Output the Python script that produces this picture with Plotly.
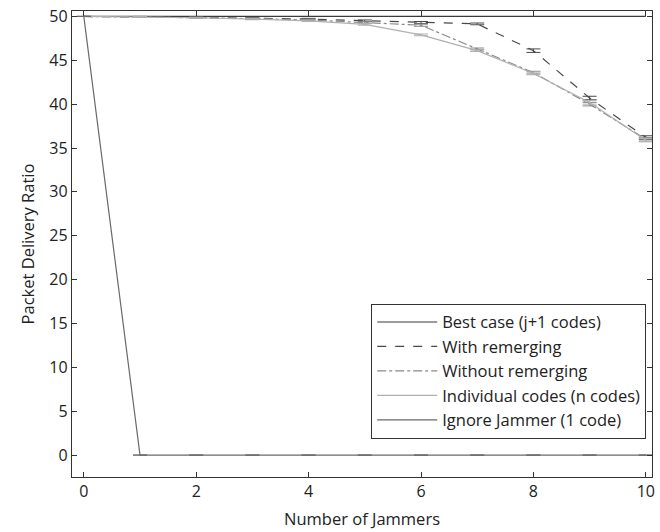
import plotly.graph_objects as go

jammers = list(range(0, 11))
best_case = [50, 50, 50, 50, 50, 50, 50, 50, 50, 50, 50]
with_remerging = [50, 49.95, 49.9, 49.8, 49.7, 49.5, 49.3, 49.15, 46.1, 40.7, 36.2]
without_remerging = [50, 49.95, 49.85, 49.75, 49.6, 49.3, 49.0, 46.3, 43.6, 40.0, 36.0]
individual_codes = [50, 49.95, 49.85, 49.7, 49.5, 49.1, 47.9, 46.1, 43.5, 40.2, 35.9]
ignore_jammer = [50, 0, 0, 0, 0, 0, 0, 0, 0, 0, 0]
err_remerging = [0, 0.05, 0.05, 0.08, 0.08, 0.1, 0.12, 0.1, 0.2, 0.2, 0.2]
err_without = [0, 0.05, 0.05, 0.08, 0.08, 0.1, 0.12, 0.1, 0.15, 0.2, 0.2]
err_individual = [0, 0.05, 0.05, 0.08, 0.08, 0.1, 0.1, 0.1, 0.15, 0.2, 0.2]
err_ignore = [0, 0, 0, 0, 0, 0, 0, 0, 0, 0, 0]

x_ticks = [0, 2, 4, 6, 8, 10]
y_ticks = [0, 5, 10, 15, 20, 25, 30, 35, 40, 45, 50]

FONT = "Open Sans"

fig = go.Figure()

def add(name, y, color, dash, err=None, width=1.2):
    kw = {}
    if err is not None:
        kw["error_y"] = dict(type="data", array=err, visible=True, color=color,
                             thickness=1, width=7)
    fig.add_trace(go.Scatter(x=jammers, y=y, name=name, mode="lines",
                             line=dict(color=color, dash=dash, width=width), **kw))

add("Best case (j+1 codes)", best_case, "#3a3a3a", "solid")
add("With remerging", with_remerging, "#4a4a4a", "dash", err_remerging)
add("Without remerging", without_remerging, "#8a8a8a", "dashdot", err_without)
add("Individual codes (n codes)", individual_codes, "#b0b0b0", "solid", err_individual)
add("Ignore Jammer (1 code)", ignore_jammer, "#6a6a6a", "solid", err_ignore)

axis_common = dict(
    showline=True, linecolor="#333", linewidth=1.3, mirror="ticks",
    ticks="inside", ticklen=5, tickcolor="#333", tickwidth=1,
    showgrid=False, zeroline=False,
    tickfont=dict(family=FONT, size=16, color="#222"),
)

fig.update_xaxes(range=[-0.21, 10.11], tickvals=x_ticks,
                 title=dict(text="Number of Jammers", font=dict(family=FONT, size=16.5, color="#222"),
                            standoff=12),
                 **axis_common)
fig.update_yaxes(range=[-2.5, 50.62], tickvals=y_ticks,
                 title=dict(text="Packet Delivery Ratio", font=dict(family=FONT, size=16.5, color="#222"),
                            standoff=10),
                 **axis_common)

fig.update_layout(
    width=660, height=532,
    margin=dict(l=72, r=5, t=11, b=55),
    paper_bgcolor="white", plot_bgcolor="white",
    showlegend=True,
    legend=dict(x=0.99, y=0.082, xanchor="right", yanchor="bottom",
                bgcolor="white", bordercolor="#333", borderwidth=1,
                font=dict(family=FONT, size=16.5, color="#222"),
                tracegroupgap=0, itemwidth=60),
)

fig.write_html("out.html", config={"displayModeBar": False},
               post_script="document.body.style.margin='0';")
